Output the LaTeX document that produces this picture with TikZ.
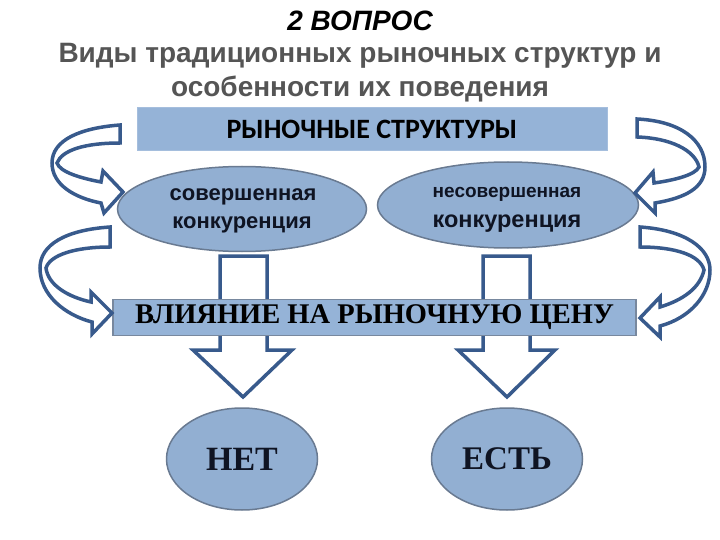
\documentclass[tikz,border=0pt]{standalone}
\usepackage{fontspec}
\setmainfont{Liberation Serif}
\newfontfamily\arialf{Liberation Sans}
\newfontfamily\calib{Carlito}
\usetikzlibrary{shapes.geometric}
\definecolor{boxfill}{RGB}{149,179,215}
\definecolor{ellfill}{RGB}{146,175,210}
\definecolor{ellline}{RGB}{105,122,145}
\definecolor{boxline}{RGB}{120,136,158}
\definecolor{arrblue}{RGB}{56,90,140}
\definecolor{titlegray}{RGB}{85,85,85}
\definecolor{darktext}{RGB}{15,20,35}
\tikzset{
  x=1pt, y=-1pt,
  bluebox/.style={rectangle, fill=boxfill, inner sep=0pt},
  ellnode/.style={ellipse, fill=ellfill, draw=ellline, line width=1.5pt, inner sep=0pt, align=center, text=darktext},
  elltext/.style={anchor=base, inner sep=0pt, text=darktext},
  bandarrow/.style={draw=arrblue, fill=white, line width=3.5pt, line join=miter},
  titlefont/.style={font=\arialf\bfseries\fontsize{28}{32}\selectfont, text=titlegray},
}
\begin{document}
\begin{tikzpicture}
\useasboundingbox (0,0) rectangle (720,540);
% title
\node[font=\arialf\bfseries\itshape\fontsize{28}{30}\selectfont, text=black] (q) at (360,21) {2 ВОПРОС};
\node[titlefont] (t1) at (360,56) {Виды традиционных рыночных структур и};
\node[titlefont] (t2) at (360,89) {особенности их поведения};
% down arrows (under boxes)
\draw[bandarrow] (220,256) -- (267,256) -- (267,350) -- (292,350) -- (243,397) -- (193,350) -- (220,350) -- cycle;
\draw[bandarrow] (483,256) -- (530,256) -- (530,350) -- (555,350) -- (507,397) -- (458,350) -- (483,350) -- cycle;
% boxes
\node[bluebox, draw=boxfill!85!white, line width=1pt, minimum width=470pt, minimum height=43pt, font=\calib\bfseries\fontsize{28}{30}\selectfont] (rs) at (372,129) {РЫНОЧНЫЕ СТРУКТУРЫ};
\node[ellnode, minimum width=249pt, minimum height=85pt] (sov) at (242,209) {};
\node[elltext, font=\arialf\bfseries\fontsize{22}{26}\selectfont] (sov1) at (243,201) {совершенная};
\node[elltext, font=\arialf\bfseries\fontsize{22}{26}\selectfont] (sov2) at (242,229) {конкуренция};
\node[ellnode, minimum width=261pt, minimum height=86pt] (nesov) at (508,205) {};
\node[elltext, font=\arialf\bfseries\fontsize{19}{24}\selectfont] (nesov1) at (507,198) {несовершенная};
\node[elltext, font=\arialf\bfseries\fontsize{23.5}{26}\selectfont] (nesov2) at (507,228) {конкуренция};
\node[bluebox, draw=boxline, line width=1.5pt, minimum width=523pt, minimum height=36pt, font=\bfseries\fontsize{28.5}{32}\selectfont] (vl) at (374.5,317.5) {ВЛИЯНИЕ НА РЫНОЧНУЮ ЦЕНУ};
\node[ellnode, minimum width=151pt, minimum height=102pt, font=\bfseries\fontsize{34}{40}\selectfont] (net) at (242,459) {НЕТ};
\node[ellnode, minimum width=151pt, minimum height=102pt, font=\bfseries\fontsize{33}{40}\selectfont] (est) at (507,459) {ЕСТЬ};
% curved arrows
\draw[bandarrow] (120,125) .. controls (80,128) and (52,140) .. (52,163) .. controls (52,185) and (75,198) .. (101,203) -- (104,213) -- (123,192) -- (103,171) -- (101,182) .. controls (80,178) and (60,172) .. (57,163) .. controls (62,150) and (85,143) .. (120,143) -- cycle;
\draw[bandarrow] (110,227) .. controls (65,230) and (40,245) .. (40,268) .. controls (40,295) and (65,315) .. (92,322) -- (92,334) -- (112,313) -- (91,292) -- (91,302) .. controls (68,297) and (48,285) .. (46,268) .. controls (50,255) and (75,247) .. (110,247) -- cycle;
\draw[bandarrow] (637,119) .. controls (680,121) and (705,140) .. (705,167) .. controls (705,188) and (685,198) .. (655,203) -- (655,213) -- (635,193) -- (653,172) -- (654,183) .. controls (675,180) and (695,175) .. (699,167) .. controls (695,150) and (670,138) .. (637,137) -- cycle;
\draw[bandarrow] (640,227) .. controls (685,230) and (710,248) .. (710,270) .. controls (710,295) and (690,318) .. (660,326) -- (660,337) -- (640,318) -- (660,297) -- (660,307) .. controls (683,300) and (700,288) .. (704,270) .. controls (700,255) and (675,247) .. (640,247) -- cycle;
\end{tikzpicture}
\end{document}
